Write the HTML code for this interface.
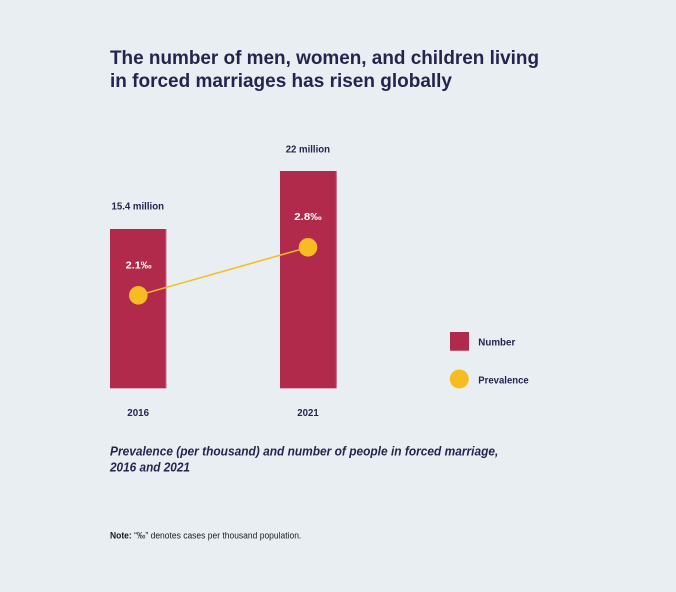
<!DOCTYPE html>
<html>
<head>
<meta charset="utf-8">
<style>
html,body{margin:0;padding:0;background:#e9eef3;}
svg{display:block;}
text{font-family:"Liberation Sans",sans-serif;}
</style>
</head>
<body>
<svg width="676" height="592" viewBox="0 0 676 592" xmlns="http://www.w3.org/2000/svg">
<rect width="676" height="592" fill="#e9eef3"/>
<g fill="#27234f" font-weight="bold">
<text x="110" y="64" font-size="19.5" textLength="429" lengthAdjust="spacingAndGlyphs">The number of men, women, and children living</text>
<text x="110" y="87" font-size="19.5" textLength="342" lengthAdjust="spacingAndGlyphs">in forced marriages has risen globally</text>
</g>
<rect x="110" y="229" width="56.5" height="159.3" fill="#b12a4c"/>
<rect x="280" y="171" width="56.7" height="217.3" fill="#b12a4c"/>
<line x1="166" y1="229" x2="166" y2="388" stroke="#c56a84" stroke-width="1"/>
<line x1="336.3" y1="171" x2="336.3" y2="388" stroke="#c56a84" stroke-width="1"/>
<g fill="#27234f" font-weight="bold" font-size="10">
<text x="111.5" y="209.7" textLength="52.5" lengthAdjust="spacingAndGlyphs">15.4 million</text>
<text x="285.7" y="152.3" textLength="44.3" lengthAdjust="spacingAndGlyphs">22 million</text>
<text x="127.3" y="416" textLength="21.7" lengthAdjust="spacingAndGlyphs">2016</text>
<text x="297.3" y="416" textLength="21.4" lengthAdjust="spacingAndGlyphs">2021</text>
<text x="478.3" y="345.3" textLength="37" lengthAdjust="spacingAndGlyphs">Number</text>
<text x="478.3" y="383.3" textLength="50.4" lengthAdjust="spacingAndGlyphs">Prevalence</text>
</g>
<g fill="#ffffff" font-weight="bold" font-size="10">
<text x="125.7" y="268.3" textLength="26" lengthAdjust="spacingAndGlyphs">2.1‰</text>
<text x="294.3" y="220" textLength="27.4" lengthAdjust="spacingAndGlyphs">2.8‰</text>
</g>
<line x1="138.3" y1="295.3" x2="308" y2="247.3" stroke="#f7bc22" stroke-width="1.5"/>
<circle cx="138.3" cy="295.3" r="9.3" fill="#f7bc22"/>
<circle cx="308" cy="247.3" r="9.3" fill="#f7bc22"/>
<rect x="450" y="332" width="19" height="18.7" fill="#b12a4c"/>
<circle cx="459.3" cy="379" r="9.5" fill="#f7bc22"/>
<g fill="#27234f" font-weight="bold" font-style="italic" font-size="12.5">
<text x="110" y="455.3" textLength="388.3" lengthAdjust="spacingAndGlyphs">Prevalence (per thousand) and number of people  in forced marriage,</text>
<text x="110" y="471.7" textLength="80" lengthAdjust="spacingAndGlyphs">2016 and 2021</text>
</g>
<text x="110" y="538.7" font-size="9.3" fill="#1a1a1a" textLength="191.3" lengthAdjust="spacingAndGlyphs"><tspan font-weight="bold">Note:</tspan> “‰” denotes cases per thousand population.</text>
</svg>
</body>
</html>
